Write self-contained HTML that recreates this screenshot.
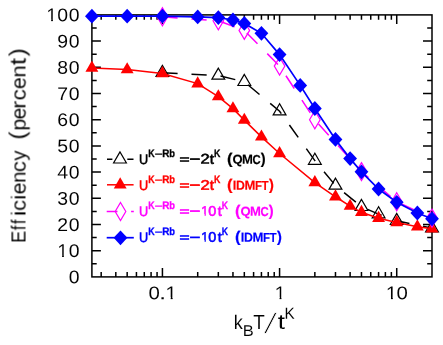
<!DOCTYPE html><html><head><meta charset="utf-8"><style>html,body{margin:0;padding:0;background:#fff}svg{display:block;will-change:transform}text{font-family:"Liberation Sans",sans-serif;white-space:pre;text-rendering:geometricPrecision}</style></head><body>
<svg width="443" height="345" viewBox="0 0 443 345">
<defs><filter id="gs" x="-5%" y="-5%" width="110%" height="110%"><feOffset dx="0" dy="0"/></filter>
<clipPath id="c1n18_4"><polygon points="0.000,-13.477 6.289,-13.477 6.289,0.090 4.600,0.090 4.600,-2.156 0.000,-2.156"/></clipPath><clipPath id="c1n13_9"><polygon points="0.000,-10.181 4.751,-10.181 4.751,0.068 3.475,0.068 3.475,-1.629 0.000,-1.629"/></clipPath></defs>
<rect width="443" height="345" fill="#fff"/>
<g stroke="#000" stroke-width="1.5" fill="none" stroke-linecap="butt">
<rect x="91.90" y="14.90" width="340.10" height="262.00"/>
<path d="M91.90 263.80h4.8M432.00 263.80h-4.8"/>
<path d="M91.90 250.70h9M432.00 250.70h-9"/>
<path d="M91.90 237.60h4.8M432.00 237.60h-4.8"/>
<path d="M91.90 224.50h9M432.00 224.50h-9"/>
<path d="M91.90 211.40h4.8M432.00 211.40h-4.8"/>
<path d="M91.90 198.30h9M432.00 198.30h-9"/>
<path d="M91.90 185.20h4.8M432.00 185.20h-4.8"/>
<path d="M91.90 172.10h9M432.00 172.10h-9"/>
<path d="M91.90 159.00h4.8M432.00 159.00h-4.8"/>
<path d="M91.90 145.90h9M432.00 145.90h-9"/>
<path d="M91.90 132.80h4.8M432.00 132.80h-4.8"/>
<path d="M91.90 119.70h9M432.00 119.70h-9"/>
<path d="M91.90 106.60h4.8M432.00 106.60h-4.8"/>
<path d="M91.90 93.50h9M432.00 93.50h-9"/>
<path d="M91.90 80.40h4.8M432.00 80.40h-4.8"/>
<path d="M91.90 67.30h9M432.00 67.30h-9"/>
<path d="M91.90 54.20h4.8M432.00 54.20h-4.8"/>
<path d="M91.90 41.10h9M432.00 41.10h-9"/>
<path d="M91.90 28.00h4.8M432.00 28.00h-4.8"/>
<path d="M101.18 276.90v-4.8M101.18 14.90v4.8"/>
<path d="M115.81 276.90v-4.8M115.81 14.90v4.8"/>
<path d="M127.17 276.90v-4.8M127.17 14.90v4.8"/>
<path d="M136.44 276.90v-4.8M136.44 14.90v4.8"/>
<path d="M144.28 276.90v-4.8M144.28 14.90v4.8"/>
<path d="M151.08 276.90v-4.8M151.08 14.90v4.8"/>
<path d="M157.07 276.90v-4.8M157.07 14.90v4.8"/>
<path d="M162.43 276.90v-9M162.43 14.90v9"/>
<path d="M197.70 276.90v-4.8M197.70 14.90v4.8"/>
<path d="M218.33 276.90v-4.8M218.33 14.90v4.8"/>
<path d="M232.96 276.90v-4.8M232.96 14.90v4.8"/>
<path d="M244.32 276.90v-4.8M244.32 14.90v4.8"/>
<path d="M253.59 276.90v-4.8M253.59 14.90v4.8"/>
<path d="M261.43 276.90v-4.8M261.43 14.90v4.8"/>
<path d="M268.23 276.90v-4.8M268.23 14.90v4.8"/>
<path d="M274.22 276.90v-4.8M274.22 14.90v4.8"/>
<path d="M279.58 276.90v-9M279.58 14.90v9"/>
<path d="M314.85 276.90v-4.8M314.85 14.90v4.8"/>
<path d="M335.48 276.90v-4.8M335.48 14.90v4.8"/>
<path d="M350.11 276.90v-4.8M350.11 14.90v4.8"/>
<path d="M361.47 276.90v-4.8M361.47 14.90v4.8"/>
<path d="M370.74 276.90v-4.8M370.74 14.90v4.8"/>
<path d="M378.58 276.90v-4.8M378.58 14.90v4.8"/>
<path d="M385.38 276.90v-4.8M385.38 14.90v4.8"/>
<path d="M391.37 276.90v-4.8M391.37 14.90v4.8"/>
<path d="M396.73 276.90v-9M396.73 14.90v9"/>
</g>
<polyline points="162.43,72.80 218.33,75.50 244.32,81.80 279.58,111.20 314.85,160.60 335.48,185.50 361.47,206.80 378.58,214.10 396.73,220.80 432.00,228.20" fill="none" stroke="#000" stroke-width="1.5" stroke-dasharray="15.2 13.9"/>
<polygon points="162.43,65.40 156.02,76.50 168.84,76.50" fill="none" stroke="#000" stroke-width="1.2" stroke-linejoin="miter"/>
<polygon points="218.33,68.10 211.92,79.20 224.73,79.20" fill="none" stroke="#000" stroke-width="1.2" stroke-linejoin="miter"/>
<polygon points="244.32,74.40 237.91,85.50 250.72,85.50" fill="none" stroke="#000" stroke-width="1.2" stroke-linejoin="miter"/>
<polygon points="279.58,103.80 273.17,114.90 285.99,114.90" fill="none" stroke="#000" stroke-width="1.2" stroke-linejoin="miter"/>
<polygon points="314.85,153.20 308.44,164.30 321.26,164.30" fill="none" stroke="#000" stroke-width="1.2" stroke-linejoin="miter"/>
<polygon points="335.48,178.10 329.07,189.20 341.88,189.20" fill="none" stroke="#000" stroke-width="1.2" stroke-linejoin="miter"/>
<polygon points="361.47,199.40 355.06,210.50 367.87,210.50" fill="none" stroke="#000" stroke-width="1.2" stroke-linejoin="miter"/>
<polygon points="378.58,206.70 372.18,217.80 384.99,217.80" fill="none" stroke="#000" stroke-width="1.2" stroke-linejoin="miter"/>
<polygon points="396.73,213.40 390.32,224.50 403.14,224.50" fill="none" stroke="#000" stroke-width="1.2" stroke-linejoin="miter"/>
<polygon points="432.00,220.80 425.59,231.90 438.41,231.90" fill="none" stroke="#000" stroke-width="1.2" stroke-linejoin="miter"/>
<polyline points="91.90,68.00 127.17,69.60 162.43,73.50 197.70,83.65 218.33,96.60 232.96,108.60 244.32,120.10 261.43,136.90 279.58,153.55 314.85,182.55 335.48,196.75 350.11,206.10 361.47,212.30 378.58,218.20 396.73,222.50 417.36,226.65 432.00,228.85" fill="none" stroke="#f00" stroke-width="1.5"/>
<polygon points="91.90,60.55 85.45,71.72 98.35,71.72" fill="#f00" stroke="none" stroke-width="0" stroke-linejoin="miter"/>
<polygon points="127.17,62.15 120.71,73.32 133.62,73.32" fill="#f00" stroke="none" stroke-width="0" stroke-linejoin="miter"/>
<polygon points="162.43,66.05 155.98,77.22 168.88,77.22" fill="#f00" stroke="none" stroke-width="0" stroke-linejoin="miter"/>
<polygon points="197.70,76.20 191.25,87.38 204.15,87.38" fill="#f00" stroke="none" stroke-width="0" stroke-linejoin="miter"/>
<polygon points="218.33,89.15 211.87,100.32 224.78,100.32" fill="#f00" stroke="none" stroke-width="0" stroke-linejoin="miter"/>
<polygon points="232.96,101.15 226.51,112.32 239.41,112.32" fill="#f00" stroke="none" stroke-width="0" stroke-linejoin="miter"/>
<polygon points="244.32,112.65 237.86,123.82 250.77,123.82" fill="#f00" stroke="none" stroke-width="0" stroke-linejoin="miter"/>
<polygon points="261.43,129.45 254.98,140.62 267.89,140.62" fill="#f00" stroke="none" stroke-width="0" stroke-linejoin="miter"/>
<polygon points="279.58,146.10 273.13,157.28 286.03,157.28" fill="#f00" stroke="none" stroke-width="0" stroke-linejoin="miter"/>
<polygon points="314.85,175.10 308.40,186.28 321.30,186.28" fill="#f00" stroke="none" stroke-width="0" stroke-linejoin="miter"/>
<polygon points="335.48,189.30 329.02,200.47 341.93,200.47" fill="#f00" stroke="none" stroke-width="0" stroke-linejoin="miter"/>
<polygon points="350.11,198.65 343.66,209.82 356.56,209.82" fill="#f00" stroke="none" stroke-width="0" stroke-linejoin="miter"/>
<polygon points="361.47,204.85 355.01,216.03 367.92,216.03" fill="#f00" stroke="none" stroke-width="0" stroke-linejoin="miter"/>
<polygon points="378.58,210.75 372.13,221.92 385.04,221.92" fill="#f00" stroke="none" stroke-width="0" stroke-linejoin="miter"/>
<polygon points="396.73,215.05 390.28,226.22 403.18,226.22" fill="#f00" stroke="none" stroke-width="0" stroke-linejoin="miter"/>
<polygon points="417.36,219.20 410.91,230.38 423.81,230.38" fill="#f00" stroke="none" stroke-width="0" stroke-linejoin="miter"/>
<polygon points="432.00,221.40 425.55,232.57 438.45,232.57" fill="#f00" stroke="none" stroke-width="0" stroke-linejoin="miter"/>
<polyline points="162.43,16.80 218.33,20.80 244.32,30.40 279.58,66.10 314.85,119.80 361.47,171.60 396.73,201.70 432.00,218.10" fill="none" stroke="#f0f" stroke-width="1.5" stroke-dasharray="15.2 13.9"/>
<polygon points="162.43,7.80 167.73,16.80 162.43,25.80 157.13,16.80" fill="none" stroke="#f0f" stroke-width="1.2" stroke-linejoin="miter"/>
<polygon points="218.33,11.80 223.63,20.80 218.33,29.80 213.03,20.80" fill="none" stroke="#f0f" stroke-width="1.2" stroke-linejoin="miter"/>
<polygon points="244.32,21.40 249.62,30.40 244.32,39.40 239.02,30.40" fill="none" stroke="#f0f" stroke-width="1.2" stroke-linejoin="miter"/>
<polygon points="279.58,57.10 284.88,66.10 279.58,75.10 274.28,66.10" fill="none" stroke="#f0f" stroke-width="1.2" stroke-linejoin="miter"/>
<polygon points="314.85,110.80 320.15,119.80 314.85,128.80 309.55,119.80" fill="none" stroke="#f0f" stroke-width="1.2" stroke-linejoin="miter"/>
<polygon points="361.47,162.60 366.77,171.60 361.47,180.60 356.17,171.60" fill="none" stroke="#f0f" stroke-width="1.2" stroke-linejoin="miter"/>
<polygon points="396.73,192.70 402.03,201.70 396.73,210.70 391.43,201.70" fill="none" stroke="#f0f" stroke-width="1.2" stroke-linejoin="miter"/>
<polygon points="432.00,209.10 437.30,218.10 432.00,227.10 426.70,218.10" fill="none" stroke="#f0f" stroke-width="1.2" stroke-linejoin="miter"/>
<polyline points="91.90,16.20 127.17,16.20 162.43,16.10 197.70,16.90 218.33,17.60 232.96,20.00 244.32,23.40 261.43,33.30 279.58,54.60 300.21,85.40 314.85,108.50 335.48,139.40 350.11,158.60 361.47,171.80 378.58,189.00 396.73,202.30 417.36,213.00 432.00,218.80" fill="none" stroke="#00f" stroke-width="1.7"/>
<polygon points="91.90,8.80 98.80,16.20 91.90,23.60 85.00,16.20" fill="#00f" stroke="none" stroke-width="0" stroke-linejoin="miter"/>
<polygon points="127.17,8.80 134.07,16.20 127.17,23.60 120.27,16.20" fill="#00f" stroke="none" stroke-width="0" stroke-linejoin="miter"/>
<polygon points="162.43,8.70 169.33,16.10 162.43,23.50 155.53,16.10" fill="#00f" stroke="none" stroke-width="0" stroke-linejoin="miter"/>
<polygon points="197.70,9.50 204.60,16.90 197.70,24.30 190.80,16.90" fill="#00f" stroke="none" stroke-width="0" stroke-linejoin="miter"/>
<polygon points="218.33,10.20 225.23,17.60 218.33,25.00 211.43,17.60" fill="#00f" stroke="none" stroke-width="0" stroke-linejoin="miter"/>
<polygon points="232.96,12.60 239.86,20.00 232.96,27.40 226.06,20.00" fill="#00f" stroke="none" stroke-width="0" stroke-linejoin="miter"/>
<polygon points="244.32,16.00 251.22,23.40 244.32,30.80 237.42,23.40" fill="#00f" stroke="none" stroke-width="0" stroke-linejoin="miter"/>
<polygon points="261.43,25.90 268.33,33.30 261.43,40.70 254.53,33.30" fill="#00f" stroke="none" stroke-width="0" stroke-linejoin="miter"/>
<polygon points="279.58,47.20 286.48,54.60 279.58,62.00 272.68,54.60" fill="#00f" stroke="none" stroke-width="0" stroke-linejoin="miter"/>
<polygon points="300.21,78.00 307.11,85.40 300.21,92.80 293.31,85.40" fill="#00f" stroke="none" stroke-width="0" stroke-linejoin="miter"/>
<polygon points="314.85,101.10 321.75,108.50 314.85,115.90 307.95,108.50" fill="#00f" stroke="none" stroke-width="0" stroke-linejoin="miter"/>
<polygon points="335.48,132.00 342.38,139.40 335.48,146.80 328.58,139.40" fill="#00f" stroke="none" stroke-width="0" stroke-linejoin="miter"/>
<polygon points="350.11,151.20 357.01,158.60 350.11,166.00 343.21,158.60" fill="#00f" stroke="none" stroke-width="0" stroke-linejoin="miter"/>
<polygon points="361.47,164.40 368.37,171.80 361.47,179.20 354.57,171.80" fill="#00f" stroke="none" stroke-width="0" stroke-linejoin="miter"/>
<polygon points="378.58,181.60 385.48,189.00 378.58,196.40 371.68,189.00" fill="#00f" stroke="none" stroke-width="0" stroke-linejoin="miter"/>
<polygon points="396.73,194.90 403.63,202.30 396.73,209.70 389.83,202.30" fill="#00f" stroke="none" stroke-width="0" stroke-linejoin="miter"/>
<polygon points="417.36,205.60 424.26,213.00 417.36,220.40 410.46,213.00" fill="#00f" stroke="none" stroke-width="0" stroke-linejoin="miter"/>
<polygon points="432.00,211.40 438.90,218.80 432.00,226.20 425.10,218.80" fill="#00f" stroke="none" stroke-width="0" stroke-linejoin="miter"/>
<path d="M107 159.3H112.4M127.3 159.3H133.5" stroke="#000" stroke-width="1.5"/>
<polygon points="120.00,151.90 113.59,163.00 126.41,163.00" fill="none" stroke="#000" stroke-width="1.2" stroke-linejoin="miter"/>
<path d="M107 184.8H133.6" stroke="#f00" stroke-width="1.5"/>
<polygon points="120.20,177.35 113.75,188.53 126.65,188.53" fill="#f00" stroke="none" stroke-width="0" stroke-linejoin="miter"/>
<path d="M106.7 211.4H117.5M131.1 211.4H133.8" stroke="#f0f" stroke-width="1.5"/>
<polygon points="120.50,202.50 125.80,211.50 120.50,220.50 115.20,211.50" fill="none" stroke="#f0f" stroke-width="1.2" stroke-linejoin="miter"/>
<path d="M106.7 237.7H133.8" stroke="#00f" stroke-width="1.7"/>
<polygon points="120.50,230.40 127.40,237.80 120.50,245.20 113.60,237.80" fill="#00f" stroke="none" stroke-width="0" stroke-linejoin="miter"/>
<g filter="url(#gs)"><text transform="translate(68.81,283.30) rotate(0.03) scale(1.056,1.000)" font-size="18.4" fill="#000" stroke="#fff" stroke-width="0.05">0</text>
<text transform="translate(57.20,257.10) rotate(0.03) scale(1.061,1.000)" font-size="18.4" fill="#000" stroke="#fff" stroke-width="0.05" clip-path="url(#c1n18_4)">1</text>
<text transform="translate(68.81,257.10) rotate(0.03) scale(1.056,1.000)" font-size="18.4" fill="#000" stroke="#fff" stroke-width="0.05">0</text>
<text transform="translate(57.21,230.90) rotate(0.03) scale(1.056,1.000)" font-size="18.4" fill="#000" stroke="#fff" stroke-width="0.05">2</text>
<text transform="translate(68.81,230.90) rotate(0.03) scale(1.056,1.000)" font-size="18.4" fill="#000" stroke="#fff" stroke-width="0.05">0</text>
<text transform="translate(57.21,204.70) rotate(0.03) scale(1.056,1.000)" font-size="18.4" fill="#000" stroke="#fff" stroke-width="0.05">3</text>
<text transform="translate(68.81,204.70) rotate(0.03) scale(1.056,1.000)" font-size="18.4" fill="#000" stroke="#fff" stroke-width="0.05">0</text>
<text transform="translate(57.21,178.50) rotate(0.03) scale(1.055,1.000)" font-size="18.4" fill="#000" stroke="#fff" stroke-width="0.05">4</text>
<text transform="translate(68.81,178.50) rotate(0.03) scale(1.056,1.000)" font-size="18.4" fill="#000" stroke="#fff" stroke-width="0.05">0</text>
<text transform="translate(57.21,152.30) rotate(0.03) scale(1.056,1.000)" font-size="18.4" fill="#000" stroke="#fff" stroke-width="0.05">5</text>
<text transform="translate(68.81,152.30) rotate(0.03) scale(1.056,1.000)" font-size="18.4" fill="#000" stroke="#fff" stroke-width="0.05">0</text>
<text transform="translate(57.21,126.10) rotate(0.03) scale(1.056,1.000)" font-size="18.4" fill="#000" stroke="#fff" stroke-width="0.05">6</text>
<text transform="translate(68.81,126.10) rotate(0.03) scale(1.056,1.000)" font-size="18.4" fill="#000" stroke="#fff" stroke-width="0.05">0</text>
<text transform="translate(57.21,99.90) rotate(0.03) scale(1.056,1.000)" font-size="18.4" fill="#000" stroke="#fff" stroke-width="0.05">7</text>
<text transform="translate(68.81,99.90) rotate(0.03) scale(1.056,1.000)" font-size="18.4" fill="#000" stroke="#fff" stroke-width="0.05">0</text>
<text transform="translate(57.21,73.70) rotate(0.03) scale(1.056,1.000)" font-size="18.4" fill="#000" stroke="#fff" stroke-width="0.05">8</text>
<text transform="translate(68.81,73.70) rotate(0.03) scale(1.056,1.000)" font-size="18.4" fill="#000" stroke="#fff" stroke-width="0.05">0</text>
<text transform="translate(57.21,47.50) rotate(0.03) scale(1.056,1.000)" font-size="18.4" fill="#000" stroke="#fff" stroke-width="0.05">9</text>
<text transform="translate(68.81,47.50) rotate(0.03) scale(1.056,1.000)" font-size="18.4" fill="#000" stroke="#fff" stroke-width="0.05">0</text>
<text transform="translate(46.26,21.30) rotate(0.03) scale(1.061,1.000)" font-size="18.4" fill="#000" stroke="#fff" stroke-width="0.05" clip-path="url(#c1n18_4)">1</text>
<text transform="translate(57.21,21.30) rotate(0.03) scale(1.056,1.000)" font-size="18.4" fill="#000" stroke="#fff" stroke-width="0.05">0</text>
<text transform="translate(68.81,21.30) rotate(0.03) scale(1.056,1.000)" font-size="18.4" fill="#000" stroke="#fff" stroke-width="0.05">0</text>
<text transform="translate(148.58,299.30) rotate(0.03) scale(1.108,1.000)" font-size="18.4" fill="#000" stroke="#fff" stroke-width="0.05">0</text>
<text transform="translate(159.29,299.30) rotate(0.03) scale(1.313,1.000)" font-size="18.4" fill="#000">.</text>
<text transform="translate(165.30,299.30) rotate(0.03) scale(1.171,1.000)" font-size="18.4" fill="#000" stroke="#fff" stroke-width="0.05" clip-path="url(#c1n18_4)">1</text>
<text transform="translate(274.38,299.30) rotate(0.03) scale(1.126,1.000)" font-size="18.4" fill="#000" stroke="#fff" stroke-width="0.05" clip-path="url(#c1n18_4)">1</text>
<text transform="translate(385.78,299.30) rotate(0.03) scale(1.126,1.000)" font-size="18.4" fill="#000" stroke="#fff" stroke-width="0.05" clip-path="url(#c1n18_4)">1</text>
<text transform="translate(396.38,299.30) rotate(0.03) scale(1.108,1.000)" font-size="18.4" fill="#000" stroke="#fff" stroke-width="0.05">0</text>
<g transform="translate(25.5,241.4) rotate(-90)"><text transform="translate(-1.52,0.00) rotate(0.03) scale(0.887,1.000)" font-size="20.5" fill="#000" stroke="#fff" stroke-width="0.05">E</text><text transform="translate(11.24,0.00) rotate(0.03) scale(0.800,1.000)" font-size="20.5" fill="#000" stroke="#fff" stroke-width="0.05">f</text><text transform="translate(17.14,0.00) rotate(0.03) scale(0.800,1.000)" font-size="20.5" fill="#000" stroke="#fff" stroke-width="0.05">f</text><text transform="translate(25.24,0.00) rotate(0.03) scale(1.193,1.000)" font-size="20.5" fill="#000" stroke="#fff" stroke-width="0.05">i</text><text transform="translate(30.55,0.00) rotate(0.03) scale(1.058,1.000)" font-size="20.5" fill="#000" stroke="#fff" stroke-width="0.05">c</text><text transform="translate(41.41,0.00) rotate(0.03) scale(1.138,1.000)" font-size="20.5" fill="#000" stroke="#fff" stroke-width="0.05">i</text><text transform="translate(46.97,0.00) rotate(0.03) scale(1.045,1.000)" font-size="20.5" fill="#000" stroke="#fff" stroke-width="0.05">e</text><text transform="translate(58.52,0.00) rotate(0.03) scale(0.993,1.000)" font-size="20.5" fill="#000" stroke="#fff" stroke-width="0.05">n</text><text transform="translate(69.24,0.00) rotate(0.03) scale(1.069,1.000)" font-size="20.5" fill="#000" stroke="#fff" stroke-width="0.05">c</text><text transform="translate(80.73,0.00) rotate(0.03) scale(0.989,1.000)" font-size="20.5" fill="#000" stroke="#fff" stroke-width="0.05">y</text><text transform="translate(101.87,-0.60) rotate(0.03) scale(1.187,1.120)" font-size="20.5" fill="#000" stroke="#fff" stroke-width="0.05">(</text><text transform="translate(110.69,0.00) rotate(0.03) scale(1.047,1.000)" font-size="20.5" fill="#000" stroke="#fff" stroke-width="0.05">p</text><text transform="translate(121.98,0.00) rotate(0.03) scale(1.024,1.000)" font-size="20.5" fill="#000" stroke="#fff" stroke-width="0.05">e</text><text transform="translate(132.57,0.00) rotate(0.03) scale(1.180,1.000)" font-size="20.5" fill="#000" stroke="#fff" stroke-width="0.05">r</text><text transform="translate(141.12,0.00) rotate(0.03) scale(1.092,1.000)" font-size="20.5" fill="#000" stroke="#fff" stroke-width="0.05">c</text><text transform="translate(152.37,0.00) rotate(0.03) scale(1.045,1.000)" font-size="20.5" fill="#000" stroke="#fff" stroke-width="0.05">e</text><text transform="translate(163.70,0.00) rotate(0.03) scale(1.085,1.000)" font-size="20.5" fill="#000" stroke="#fff" stroke-width="0.05">n</text><text transform="translate(176.28,0.00) rotate(0.03) scale(1.270,1.100)" font-size="20.5" fill="#000" stroke="#fff" stroke-width="0.05">t</text><text transform="translate(185.03,-0.60) rotate(0.03) scale(1.205,1.120)" font-size="20.5" fill="#000" stroke="#fff" stroke-width="0.05">)</text></g>
<text transform="translate(233.66,328.80) rotate(0.03) scale(0.913,1.000)" font-size="19.8" fill="#000" stroke="#fff" stroke-width="0.05">k</text>
<text transform="translate(242.83,335.90) rotate(0.03) scale(1.054,1.000)" font-size="15.6" fill="#000" stroke="#fff" stroke-width="0.05">B</text>
<text transform="translate(253.15,328.80) rotate(0.03) scale(0.919,1.000)" font-size="20.5" fill="#000" stroke="#fff" stroke-width="0.05">T</text>
<text transform="translate(264.1,332.6) skewX(-14)" font-size="28" stroke="#fff" stroke-width="0.75">/</text>
<text transform="translate(277.78,328.80) rotate(0.03) scale(1.270,1.030)" font-size="20.5" fill="#000" stroke="#fff" stroke-width="0.05">t</text>
<text transform="translate(284.42,318.80) rotate(0.03) scale(0.953,1.000)" font-size="16.0" fill="#000" stroke="#fff" stroke-width="0.05">K</text>
<text transform="translate(139.02,163.60) rotate(0.03) scale(0.912,1.000)" font-size="13.9" fill="#000" stroke="#000" stroke-width="0.6">U</text>
<text transform="translate(148.26,157.40) rotate(0.03) scale(0.817,1.000)" font-size="10.8" font-weight="bold" fill="#000" stroke="#000" stroke-width="0.3">K</text>
<text transform="translate(154.50,157.70) rotate(0.03) scale(1.329,1.000)" font-size="10.8" font-weight="bold" fill="#000">−</text>
<text transform="translate(162.19,157.40) rotate(0.03) scale(0.919,1.000)" font-size="10.8" font-weight="bold" fill="#000" stroke="#000" stroke-width="0.3">R</text>
<text transform="translate(169.24,157.40) rotate(0.03) scale(0.864,1.000)" font-size="10.8" font-weight="bold" fill="#000" stroke="#000" stroke-width="0.3">b</text>
<text transform="translate(179.54,163.25) rotate(0.03) scale(1.236,0.820)" font-size="13.9" fill="#000" stroke="#000" stroke-width="0.75">=</text>
<text transform="translate(189.59,163.80) rotate(0.03) scale(1.333,1.000)" font-size="13.9" fill="#000" stroke="#000" stroke-width="0.6">−</text>
<text transform="translate(200.57,163.60) rotate(0.03) scale(1.184,1.000)" font-size="13.9" fill="#000" stroke="#000" stroke-width="0.6">2</text>
<text transform="translate(209.87,163.70) rotate(0.03) scale(1.071,1.000)" font-size="13.9" fill="#000" stroke="#000" stroke-width="0.6">t</text>
<text transform="translate(213.96,157.40) rotate(0.03) scale(0.817,1.000)" font-size="10.8" font-weight="bold" fill="#000" stroke="#000" stroke-width="0.3">K</text>
<text transform="translate(226.95,163.70) rotate(0.03) scale(1.267,1.160)" font-size="13.0" font-weight="bold" fill="#000" stroke="#000" stroke-width="0.15">(</text>
<text transform="translate(232.54,163.70) rotate(0.03) scale(1.002,1.000)" font-size="13.0" font-weight="bold" fill="#000" stroke="#000" stroke-width="0.15">Q</text>
<text transform="translate(241.90,163.70) rotate(0.03) scale(1.007,1.000)" font-size="13.0" font-weight="bold" fill="#000" stroke="#000" stroke-width="0.15">M</text>
<text transform="translate(252.61,163.70) rotate(0.03) scale(0.865,1.000)" font-size="13.0" font-weight="bold" fill="#000" stroke="#000" stroke-width="0.15">C</text>
<text transform="translate(260.86,163.70) rotate(0.03) scale(1.131,1.160)" font-size="13.0" font-weight="bold" fill="#000" stroke="#000" stroke-width="0.15">)</text>
<text transform="translate(139.02,189.63) rotate(0.03) scale(0.912,1.000)" font-size="13.9" fill="#f00" stroke="#f00" stroke-width="0.6">U</text>
<text transform="translate(148.26,183.43) rotate(0.03) scale(0.817,1.000)" font-size="10.8" font-weight="bold" fill="#f00" stroke="#f00" stroke-width="0.3">K</text>
<text transform="translate(154.50,183.73) rotate(0.03) scale(1.329,1.000)" font-size="10.8" font-weight="bold" fill="#f00">−</text>
<text transform="translate(162.19,183.43) rotate(0.03) scale(0.919,1.000)" font-size="10.8" font-weight="bold" fill="#f00" stroke="#f00" stroke-width="0.3">R</text>
<text transform="translate(169.24,183.43) rotate(0.03) scale(0.864,1.000)" font-size="10.8" font-weight="bold" fill="#f00" stroke="#f00" stroke-width="0.3">b</text>
<text transform="translate(179.54,189.28) rotate(0.03) scale(1.236,0.820)" font-size="13.9" fill="#f00" stroke="#f00" stroke-width="0.75">=</text>
<text transform="translate(189.59,189.83) rotate(0.03) scale(1.333,1.000)" font-size="13.9" fill="#f00" stroke="#f00" stroke-width="0.6">−</text>
<text transform="translate(200.57,189.63) rotate(0.03) scale(1.184,1.000)" font-size="13.9" fill="#f00" stroke="#f00" stroke-width="0.6">2</text>
<text transform="translate(209.87,189.73) rotate(0.03) scale(1.071,1.000)" font-size="13.9" fill="#f00" stroke="#f00" stroke-width="0.6">t</text>
<text transform="translate(213.96,183.43) rotate(0.03) scale(0.817,1.000)" font-size="10.8" font-weight="bold" fill="#f00" stroke="#f00" stroke-width="0.3">K</text>
<text transform="translate(226.95,189.73) rotate(0.03) scale(1.267,1.160)" font-size="13.0" font-weight="bold" fill="#f00" stroke="#f00" stroke-width="0.15">(</text>
<text transform="translate(232.72,189.73) rotate(0.03) scale(0.988,1.000)" font-size="13.0" font-weight="bold" fill="#f00" stroke="#f00" stroke-width="0.15">I</text>
<text transform="translate(235.95,189.73) rotate(0.03) scale(0.947,1.000)" font-size="13.0" font-weight="bold" fill="#f00" stroke="#f00" stroke-width="0.15">D</text>
<text transform="translate(244.60,189.73) rotate(0.03) scale(1.007,1.000)" font-size="13.0" font-weight="bold" fill="#f00" stroke="#f00" stroke-width="0.15">M</text>
<text transform="translate(255.00,189.73) rotate(0.03) scale(0.887,1.000)" font-size="13.0" font-weight="bold" fill="#f00" stroke="#f00" stroke-width="0.15">F</text>
<text transform="translate(261.65,189.73) rotate(0.03) scale(0.856,1.000)" font-size="13.0" font-weight="bold" fill="#f00" stroke="#f00" stroke-width="0.15">T</text>
<text transform="translate(268.96,189.73) rotate(0.03) scale(1.131,1.160)" font-size="13.0" font-weight="bold" fill="#f00" stroke="#f00" stroke-width="0.15">)</text>
<text transform="translate(139.02,215.66) rotate(0.03) scale(0.912,1.000)" font-size="13.9" fill="#f0f" stroke="#f0f" stroke-width="0.6">U</text>
<text transform="translate(148.26,209.46) rotate(0.03) scale(0.817,1.000)" font-size="10.8" font-weight="bold" fill="#f0f" stroke="#f0f" stroke-width="0.3">K</text>
<text transform="translate(154.50,209.76) rotate(0.03) scale(1.329,1.000)" font-size="10.8" font-weight="bold" fill="#f0f">−</text>
<text transform="translate(162.19,209.46) rotate(0.03) scale(0.919,1.000)" font-size="10.8" font-weight="bold" fill="#f0f" stroke="#f0f" stroke-width="0.3">R</text>
<text transform="translate(169.24,209.46) rotate(0.03) scale(0.864,1.000)" font-size="10.8" font-weight="bold" fill="#f0f" stroke="#f0f" stroke-width="0.3">b</text>
<text transform="translate(179.54,215.31) rotate(0.03) scale(1.236,0.820)" font-size="13.9" fill="#f0f" stroke="#f0f" stroke-width="0.75">=</text>
<text transform="translate(189.59,215.86) rotate(0.03) scale(1.333,1.000)" font-size="13.9" fill="#f0f" stroke="#f0f" stroke-width="0.6">−</text>
<text transform="translate(201.34,215.66) rotate(0.03) scale(0.945,1.000)" font-size="13.9" fill="#f0f" stroke="#f0f" stroke-width="0.6" clip-path="url(#c1n13_9)">1</text>
<text transform="translate(208.24,215.66) rotate(0.03) scale(1.038,1.000)" font-size="13.9" fill="#f0f" stroke="#f0f" stroke-width="0.6">0</text>
<text transform="translate(217.78,215.76) rotate(0.03) scale(1.042,1.000)" font-size="13.9" fill="#f0f" stroke="#f0f" stroke-width="0.6">t</text>
<text transform="translate(221.87,209.46) rotate(0.03) scale(0.803,1.000)" font-size="10.8" font-weight="bold" fill="#f0f" stroke="#f0f" stroke-width="0.3">K</text>
<text transform="translate(234.95,215.76) rotate(0.03) scale(1.267,1.160)" font-size="13.0" font-weight="bold" fill="#f0f" stroke="#f0f" stroke-width="0.15">(</text>
<text transform="translate(240.54,215.76) rotate(0.03) scale(1.002,1.000)" font-size="13.0" font-weight="bold" fill="#f0f" stroke="#f0f" stroke-width="0.15">Q</text>
<text transform="translate(249.90,215.76) rotate(0.03) scale(1.007,1.000)" font-size="13.0" font-weight="bold" fill="#f0f" stroke="#f0f" stroke-width="0.15">M</text>
<text transform="translate(260.61,215.76) rotate(0.03) scale(0.865,1.000)" font-size="13.0" font-weight="bold" fill="#f0f" stroke="#f0f" stroke-width="0.15">C</text>
<text transform="translate(268.86,215.76) rotate(0.03) scale(1.131,1.160)" font-size="13.0" font-weight="bold" fill="#f0f" stroke="#f0f" stroke-width="0.15">)</text>
<text transform="translate(139.02,241.69) rotate(0.03) scale(0.912,1.000)" font-size="13.9" fill="#00f" stroke="#00f" stroke-width="0.6">U</text>
<text transform="translate(148.26,235.49) rotate(0.03) scale(0.817,1.000)" font-size="10.8" font-weight="bold" fill="#00f" stroke="#00f" stroke-width="0.3">K</text>
<text transform="translate(154.50,235.79) rotate(0.03) scale(1.329,1.000)" font-size="10.8" font-weight="bold" fill="#00f">−</text>
<text transform="translate(162.19,235.49) rotate(0.03) scale(0.919,1.000)" font-size="10.8" font-weight="bold" fill="#00f" stroke="#00f" stroke-width="0.3">R</text>
<text transform="translate(169.24,235.49) rotate(0.03) scale(0.864,1.000)" font-size="10.8" font-weight="bold" fill="#00f" stroke="#00f" stroke-width="0.3">b</text>
<text transform="translate(179.54,241.34) rotate(0.03) scale(1.236,0.820)" font-size="13.9" fill="#00f" stroke="#00f" stroke-width="0.75">=</text>
<text transform="translate(189.59,241.89) rotate(0.03) scale(1.333,1.000)" font-size="13.9" fill="#00f" stroke="#00f" stroke-width="0.6">−</text>
<text transform="translate(201.34,241.69) rotate(0.03) scale(0.945,1.000)" font-size="13.9" fill="#00f" stroke="#00f" stroke-width="0.6" clip-path="url(#c1n13_9)">1</text>
<text transform="translate(208.24,241.69) rotate(0.03) scale(1.038,1.000)" font-size="13.9" fill="#00f" stroke="#00f" stroke-width="0.6">0</text>
<text transform="translate(217.78,241.79) rotate(0.03) scale(1.042,1.000)" font-size="13.9" fill="#00f" stroke="#00f" stroke-width="0.6">t</text>
<text transform="translate(221.87,235.49) rotate(0.03) scale(0.803,1.000)" font-size="10.8" font-weight="bold" fill="#00f" stroke="#00f" stroke-width="0.3">K</text>
<text transform="translate(234.95,241.79) rotate(0.03) scale(1.267,1.160)" font-size="13.0" font-weight="bold" fill="#00f" stroke="#00f" stroke-width="0.15">(</text>
<text transform="translate(240.72,241.79) rotate(0.03) scale(0.988,1.000)" font-size="13.0" font-weight="bold" fill="#00f" stroke="#00f" stroke-width="0.15">I</text>
<text transform="translate(243.95,241.79) rotate(0.03) scale(0.947,1.000)" font-size="13.0" font-weight="bold" fill="#00f" stroke="#00f" stroke-width="0.15">D</text>
<text transform="translate(252.60,241.79) rotate(0.03) scale(1.007,1.000)" font-size="13.0" font-weight="bold" fill="#00f" stroke="#00f" stroke-width="0.15">M</text>
<text transform="translate(263.00,241.79) rotate(0.03) scale(0.887,1.000)" font-size="13.0" font-weight="bold" fill="#00f" stroke="#00f" stroke-width="0.15">F</text>
<text transform="translate(269.65,241.79) rotate(0.03) scale(0.856,1.000)" font-size="13.0" font-weight="bold" fill="#00f" stroke="#00f" stroke-width="0.15">T</text>
<text transform="translate(276.96,241.79) rotate(0.03) scale(1.131,1.160)" font-size="13.0" font-weight="bold" fill="#00f" stroke="#00f" stroke-width="0.15">)</text></g>
</svg></body></html>
